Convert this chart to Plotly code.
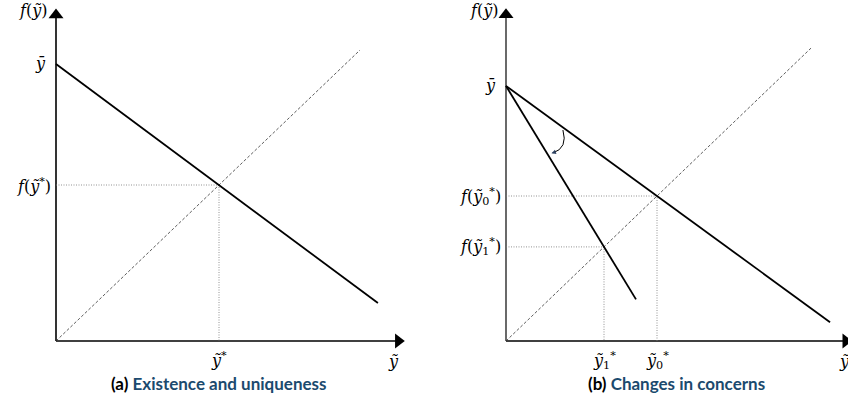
import plotly.graph_objects as go

# ---- panel (a): existence and uniqueness ----
a_ybar = 1.776
a_ystar = 1.0
a_line_x = [0.0, 1.975]
a_line_y = [1.776, 0.243]
a_diag_end = 1.865
a_axis_tip = [2.10, 2.09]   # x tip, y tip

# ---- panel (b): changes in concerns ----
b_ybar = 1.759
b_y0 = 1.0
b_y1 = 0.649
b_line0_x = [0.0, 2.146]
b_line0_y = [1.759, 0.130]
b_line1_x = [0.0, 0.861]
b_line1_y = [1.759, 0.287]
b_diag_end = 2.02
b_axis_tip = [2.25, 2.25]

MATH = dict(family="DejaVu Serif", size=16, color="black")
CAP_BLUE = "#1b4a6e"
TILDE_Y = "\u1ef9"   # y with tilde
BAR_Y = "\u0233"     # y with macron

fig = go.Figure()


def add_panel(fig, xa, ya, tip, diag_end, axis_color):
    # axes with arrow heads
    fig.add_trace(go.Scatter(x=[0, tip[0]], y=[0, 0], mode="lines", line=dict(color="black", width=1.6),
                             xaxis=xa, yaxis=ya, hoverinfo="skip"))
    fig.add_trace(go.Scatter(x=[0, 0], y=[0, tip[1]], mode="lines", line=dict(color=axis_color, width=1.6),
                             xaxis=xa, yaxis=ya, hoverinfo="skip"))
    fig.add_trace(go.Scatter(x=[tip[0]], y=[0], mode="markers",
                             marker=dict(symbol="triangle-right", size=13, color="black"),
                             xaxis=xa, yaxis=ya, hoverinfo="skip", cliponaxis=False))
    fig.add_trace(go.Scatter(x=[0], y=[tip[1]], mode="markers",
                             marker=dict(symbol="triangle-up", size=13, color="black"),
                             xaxis=xa, yaxis=ya, hoverinfo="skip", cliponaxis=False))
    # 45 degree line
    fig.add_trace(go.Scatter(x=[0, diag_end], y=[0, diag_end], mode="lines",
                             line=dict(color="#333", width=0.8, dash="3px,2px"),
                             xaxis=xa, yaxis=ya, hoverinfo="skip"))


def guide(fig, xa, ya, v):
    fig.add_trace(go.Scatter(x=[0, v, v], y=[v, v, 0], mode="lines",
                             line=dict(color="#777", width=0.8, dash="1px,1.5px"),
                             xaxis=xa, yaxis=ya, hoverinfo="skip"))


# panel (a)
add_panel(fig, "x", "y", a_axis_tip, a_diag_end, "black")
guide(fig, "x", "y", a_ystar)
fig.add_trace(go.Scatter(x=a_line_x, y=a_line_y, mode="lines", line=dict(color="black", width=1.8),
                         xaxis="x", yaxis="y", hoverinfo="skip"))

# panel (b)
add_panel(fig, "x2", "y2", b_axis_tip, b_diag_end, "#444")
guide(fig, "x2", "y2", b_y0)
guide(fig, "x2", "y2", b_y1)
fig.add_trace(go.Scatter(x=b_line0_x, y=b_line0_y, mode="lines", line=dict(color="black", width=1.8),
                         xaxis="x2", yaxis="y2", hoverinfo="skip"))
fig.add_trace(go.Scatter(x=b_line1_x, y=b_line1_y, mode="lines", line=dict(color="black", width=1.8),
                         xaxis="x2", yaxis="y2", hoverinfo="skip"))

# curved arrow showing the rotation
fig.add_shape(type="path", xref="x2", yref="y2",
              path="M 0.377,1.455 Q 0.411,1.331 0.311,1.297",
              line=dict(color="black", width=1))
fig.add_annotation(x=0.301, y=1.295, xref="x2", yref="y2", text="", showarrow=True,
                   arrowhead=2, arrowsize=0.9, arrowwidth=1, ax=3, ay=-1)


def label(fig, xr, yr, x, y, text, xanchor="center", yanchor="middle"):
    fig.add_annotation(x=x, y=y, xref=xr, yref=yr, text=text, showarrow=False,
                       xanchor=xanchor, yanchor=yanchor, font=MATH)


# labels panel (a)
label(fig, "x", "y", -0.04, a_axis_tip[1] + 0.03, f"<i>f</i>(<i>{TILDE_Y}</i>)", xanchor="right")
label(fig, "x", "y", -0.05, a_ybar, f"<i>{BAR_Y}</i>", xanchor="right")
label(fig, "x", "y", -0.02, a_ystar, f"<i>f</i>(<i>{TILDE_Y}</i><sup>*</sup>)", xanchor="right")
label(fig, "x", "y", a_ystar, -0.04, f"<i>{TILDE_Y}</i><sup>*</sup>", yanchor="top")
label(fig, "x", "y", 2.07, -0.06, f"<i>{TILDE_Y}</i>", yanchor="top")

# labels panel (b)
label(fig, "x2", "y2", -0.04, b_axis_tip[1] + 0.03, f"<i>f</i>(<i>{TILDE_Y}</i>)", xanchor="right")
label(fig, "x2", "y2", -0.05, b_ybar, f"<i>{BAR_Y}</i>", xanchor="right")
label(fig, "x2", "y2", -0.02, b_y0, f"<i>f</i>(<i>{TILDE_Y}</i><sub>0</sub><sup>*</sup>)", xanchor="right")
label(fig, "x2", "y2", -0.02, b_y1, f"<i>f</i>(<i>{TILDE_Y}</i><sub>1</sub><sup>*</sup>)", xanchor="right")
label(fig, "x2", "y2", b_y1, -0.04, f"<i>{TILDE_Y}</i><sub>1</sub><sup>*</sup>", yanchor="top")
label(fig, "x2", "y2", b_y0, -0.04, f"<i>{TILDE_Y}</i><sub>0</sub><sup>*</sup>", yanchor="top")
label(fig, "x2", "y2", 2.24, -0.06, f"<i>{TILDE_Y}</i>", yanchor="top")

# captions
CAP = dict(family="Lato", size=17, color=CAP_BLUE)
fig.add_annotation(x=219 / 848, y=1 - 383 / 408, xref="paper", yref="paper", showarrow=False,
                   xanchor="center", yanchor="middle",
                   text="<b><span style='color:black'>(a)</span> Existence and uniqueness</b>", font=CAP)
fig.add_annotation(x=676 / 848, y=1 - 383 / 408, xref="paper", yref="paper", showarrow=False,
                   xanchor="center", yanchor="middle",
                   text="<b><span style='color:black'>(b)</span> Changes in concerns</b>", font=CAP)

# axes mapped so that the origins land where the figure places them
ax_off = dict(visible=False, showgrid=False, zeroline=False, fixedrange=True)
fig.update_layout(
    width=848, height=408,
    margin=dict(l=0, r=0, t=0, b=0),
    showlegend=False,
    paper_bgcolor="white", plot_bgcolor="white",
    xaxis=dict(domain=[0, 0.5], range=[-56 / 163, 368 / 163], **ax_off),
    yaxis=dict(domain=[0, 1], range=[-67 / 156, 341 / 156], **ax_off),
    xaxis2=dict(domain=[0.5, 1], range=[-82 / 151, 342 / 151], **ax_off),
    yaxis2=dict(domain=[0, 1], range=[-67 / 145, 341 / 145], **ax_off),
)

fig.write_html("out.html", config={"displayModeBar": False},
               post_script="document.body.style.margin='0';")
